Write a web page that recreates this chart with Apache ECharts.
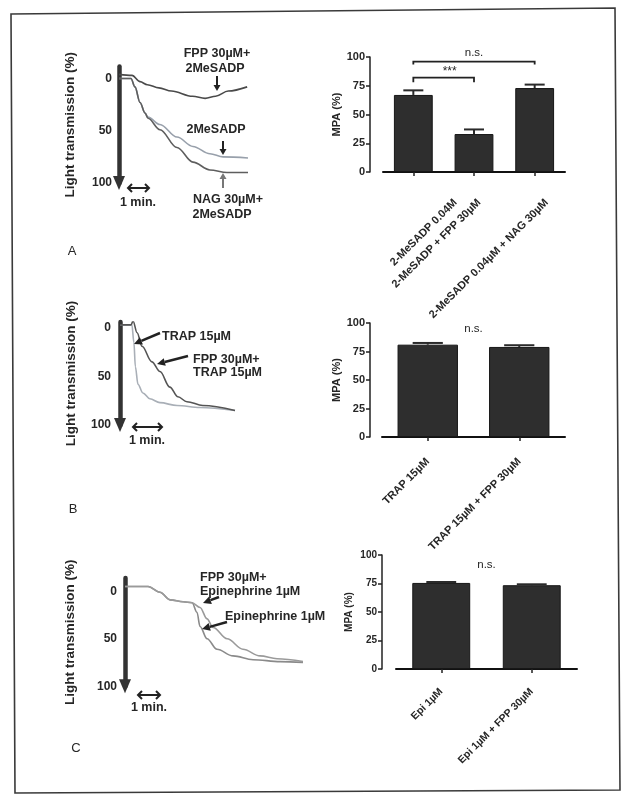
<!DOCTYPE html>
<html><head><meta charset="utf-8">
<script src="https://cdn.jsdelivr.net/npm/echarts@6/dist/echarts.min.js"></script>
<style>html,body{margin:0;padding:0;background:#fff}#c{width:635px;height:805px}</style>
</head><body><div id="c"></div>
<script>
// ---------- Panel A: aggregation traces (time in min, light transmission %) ----------
const aFppT = [0, 0.62, 1.0, 1.35, 1.9, 2.5, 3.5, 4.1, 4.6, 5.2, 6.1];
const aFppV = [-4, -3, 3, 6, 9, 12, 17, 19, 17, 12, 8];
const aAdpT = [0, 0.57, 0.76, 1.0, 1.24, 1.38, 1.95, 2.76, 3.52, 4.33, 4.95, 6.14];
const aAdpV = [0, 0, 8, 23, 33, 37, 44, 56, 65, 72, 75, 76];
const aNagT = [0, 0.57, 0.76, 1.0, 1.24, 1.38, 1.95, 2.76, 3.52, 4.33, 5.14, 6.14];
const aNagV = [0, 0, 8, 23, 33, 38, 49, 66, 80, 87.5, 90, 90];
// ---------- Panel B traces ----------
const bTrapT = [0, 0.41, 0.48, 0.53, 0.62, 0.79, 1.03, 1.38, 1.97, 2.76, 3.97];
const bTrapV = [-3, -3, 15, 40, 58, 67, 73, 77, 80, 82, 85];
const bFppT = [0, 0.38, 0.45, 0.59, 0.76, 1.1, 1.38, 1.72, 2.0, 2.31, 2.86, 3.97];
const bFppV = [-3, -3, -7, 5, 19, 35, 45, 61, 71, 76, 80, 85];
// ---------- Panel C traces ----------
const cEpiT = [0, 1.05, 1.59, 2.05, 2.64, 3.05, 3.27, 3.41, 3.73, 4.18, 4.91, 5.82, 7.05, 8.09];
const cEpiV = [-5, -5, 1, 9, 11, 12, 22, 37, 50, 61, 68, 72, 74, 75];
const cFppT = [0, 1.05, 1.59, 2.05, 2.64, 3.05, 3.41, 3.73, 4.0, 4.64, 5.36, 6.14, 6.91, 8.09];
const cFppV = [-5, -5, 1, 9, 11, 12, 17, 29, 38, 50, 61, 68, 71, 74];
const traceTicks = [0, 50, 100];
// ---------- Bar panels: MPA (%) ----------
const aCats = ['2-MeSADP 0.04M', '2-MeSADP + FPP 30µM', '2-MeSADP 0.04µM + NAG 30µM'];
const aMpa = [67, 33, 73];
const aSem = [4, 4, 3];
const bCats = ['TRAP 15µM', 'TRAP 15µM + FPP 30µM'];
const bMpa = [81, 79];
const bSem = [1.5, 1.5];
const cCats = ['Epi 1µM', 'Epi 1µM + FPP 30µM'];
const cMpa = [75.5, 73.5];
const cSem = [0.8, 0.8];

const FONT = "'Liberation Sans', Arial, sans-serif";
const INK = '#262626';
const pairs = (t, v) => t.map((x, i) => [x, v[i]]);

const chart = echarts.init(document.getElementById('c'), null, {renderer: 'canvas'});

function traceY(grid, min, gap, margin) {
  return {
    gridIndex: grid, type: 'value', inverse: true, min: min, max: 100,
    name: 'Light transmission (%)', nameLocation: 'middle', nameGap: gap,
    nameTextStyle: {fontFamily: FONT, fontWeight: 'bold', fontSize: 13.5, color: INK},
    axisLine: {show: true, symbol: ['triangle', 'none'], symbolSize: [12, 14],
      lineStyle: {color: '#333', width: 4.5}},
    axisTick: {show: false}, splitLine: {show: false},
    axisLabel: {customValues: traceTicks, margin: margin, fontFamily: FONT, fontWeight: 'bold',
      fontSize: 12, color: INK}
  };
}
function traceX(grid, max) {
  return {gridIndex: grid, type: 'value', min: 0, max: max, show: false, splitLine: {show: false}};
}
function barY(grid, offset, fs) {
  return {
    gridIndex: grid, type: 'value', min: 0, max: 100, interval: 25, offset: offset,
    name: 'MPA (%)', nameLocation: 'middle', nameGap: 28,
    nameTextStyle: {fontFamily: FONT, fontWeight: 'bold', fontSize: fs, color: INK},
    axisLine: {show: true, lineStyle: {color: '#222', width: 1.5}},
    axisTick: {show: true, length: 4, lineStyle: {color: '#222', width: 1.5}},
    splitLine: {show: false},
    axisLabel: {margin: 5, fontFamily: FONT, fontWeight: 'bold', fontSize: fs, color: INK}
  };
}
function barX(grid, cats, offset, fs, showLabels) {
  return {
    gridIndex: grid, type: 'category', data: cats, offset: offset,
    axisLine: {show: true, lineStyle: {color: '#111', width: 2}},
    axisTick: {show: true, alignWithLabel: true, length: 4, lineStyle: {color: '#222', width: 1.5}},
    axisLabel: {show: showLabels, rotate: 45, interval: 0, margin: 8, fontFamily: FONT, fontWeight: 'bold', fontSize: fs, color: INK}
  };
}
function line(xi, data, color, w) {
  return {type: 'line', xAxisIndex: xi, yAxisIndex: xi, data: data, showSymbol: false,
    smooth: 0.35, smoothMonotone: 'x', lineStyle: {color: color, width: w || 1.6}, silent: true, z: 3};
}
function bars(xi, vals, bw) {
  return {type: 'bar', xAxisIndex: xi, yAxisIndex: xi, data: vals, barWidth: bw,
    itemStyle: {color: '#2e2e2e', borderColor: '#161616', borderWidth: 1}, silent: true, z: 2};
}
function errs(xi, vals, sems, capFrac) {
  return {type: 'custom', xAxisIndex: xi, yAxisIndex: xi, z: 4, silent: true,
    data: vals.map((v, i) => [i, v, sems[i]]),
    renderItem: function (params, api) {
      const i = api.value(0), v = api.value(1), e = api.value(2);
      const b = api.coord([i, v]), t = api.coord([i, v + e]);
      const cw = api.size([1, 0])[0] * capFrac;
      return {type: 'group', children: [
        {type: 'line', shape: {x1: b[0], y1: b[1], x2: t[0], y2: t[1]}, style: {stroke: '#2a2a2a', lineWidth: 2}},
        {type: 'line', shape: {x1: t[0] - cw / 2, y1: t[1], x2: t[0] + cw / 2, y2: t[1]}, style: {stroke: '#2a2a2a', lineWidth: 2}}
      ]};
    }};
}

const option = {
  animation: false,
  backgroundColor: '#fff',
  grid: [
    {left: 119, top: 66.5, width: 129, height: 116.5},
    {left: 383, top: 57, width: 182, height: 115},
    {left: 120, top: 322, width: 115, height: 103},
    {left: 382, top: 323, width: 183, height: 114},
    {left: 125, top: 578, width: 178, height: 108.3},
    {left: 396, top: 555, width: 181, height: 114}
  ],
  xAxis: [
    traceX(0, 6.14), barX(1, aCats, 12, 11, false),
    traceX(2, 3.97), barX(3, bCats, 15, 11, true),
    traceX(4, 8.09), barX(5, cCats, 13, 10.5, true)
  ],
  yAxis: [
    traceY(0, -11.5, 42, 7), barY(1, 13, 11),
    traceY(2, -6, 42, 9), barY(3, 12, 11),
    traceY(4, -14, 48, 8), barY(5, 14, 10)
  ],
  series: [
    line(0, pairs(aAdpT, aAdpV), '#98a0ab'),
    line(0, pairs(aNagT, aNagV), '#5e5e5e'),
    line(0, pairs(aFppT, aFppV), '#4a4a4a'),
    bars(1, aMpa, '64%'), errs(1, aMpa, aSem, 0.33),
    line(2, pairs(bTrapT, bTrapV), '#a9afb7'),
    line(2, pairs(bFppT, bFppV), '#555555'),
    bars(3, bMpa, '66%'), errs(3, bMpa, bSem, 0.33),
    line(4, pairs(cEpiT, cEpiV), '#8a8a8a'),
    line(4, pairs(cFppT, cFppV), '#9a9a9a'),
    bars(5, cMpa, '64%'), errs(5, cMpa, cSem, 0.33)
  ]
};
chart.setOption(option);

// ---------- annotations ----------
function txt(x, y, s, o) {
  o = o || {};
  return {type: 'text', x: x, y: y, rotation: o.rot || 0, style: {text: s, fontFamily: FONT, fontWeight: o.w || 'bold',
    fontSize: o.fs || 12.5, fill: o.c || INK, align: o.align || 'center', verticalAlign: 'middle'}, z: 10};
}
function arrow(x1, y1, x2, y2, color, L, W, lw) {
  const a = Math.atan2(y2 - y1, x2 - x1);
  L = L || 7; W = W || 3.5;
  const bx = x2 - L * Math.cos(a), by = y2 - L * Math.sin(a);
  const px = -Math.sin(a) * W, py = Math.cos(a) * W;
  return [
    {type: 'line', shape: {x1: x1, y1: y1, x2: bx, y2: by}, style: {stroke: color, lineWidth: lw || 2}, z: 10},
    {type: 'polygon', shape: {points: [[x2, y2], [bx + px, by + py], [bx - px, by - py]]}, style: {fill: color}, z: 10}
  ];
}
function scaleBar(x1, x2, y) {
  const h = 4;
  return [
    {type: 'line', shape: {x1: x1, y1: y, x2: x2, y2: y}, style: {stroke: '#222', lineWidth: 2}, z: 10},
    {type: 'polyline', shape: {points: [[x1 + h, y - h], [x1, y], [x1 + h, y + h]]}, style: {stroke: '#222', lineWidth: 2, fill: null}, z: 10},
    {type: 'polyline', shape: {points: [[x2 - h, y - h], [x2, y], [x2 - h, y + h]]}, style: {stroke: '#222', lineWidth: 2, fill: null}, z: 10}
  ];
}
const px = (grid, i, v) => chart.convertToPixel({gridIndex: grid}, [i, v]);
function bracket(grid, i1, i2, v, drop) {
  const p1 = px(grid, i1, v), p2 = px(grid, i2, v), q = px(grid, i1, v - drop);
  return {type: 'polyline', shape: {points: [[p1[0], q[1]], [p1[0], p1[1]], [p2[0], p2[1]], [p2[0], q[1]]]},
    style: {stroke: '#222', lineWidth: 1.8, fill: null}, z: 10};
}
function labelMid(grid, i1, i2, v, s, fs, dx) {
  const p1 = px(grid, i1, v), p2 = px(grid, i2, v);
  return txt((p1[0] + p2[0]) / 2 + (dx || 0), p1[1], s, {w: 'normal', fs: fs || 11.5});
}

const g = [];
g.push({type: 'polygon', shape: {points: [[11, 14], [615, 8], [620, 790], [15, 793]]},
  style: {stroke: '#3a3a3a', lineWidth: 1.6, fill: null}, z: 1});
g.push(txt(72, 251, 'A', {w: 'normal', fs: 13}));
g.push(txt(73, 509, 'B', {w: 'normal', fs: 13}));
g.push(txt(76, 748, 'C', {w: 'normal', fs: 13}));
// A trace annotations
g.push(txt(217, 54, 'FPP 30µM+'), txt(215, 69, '2MeSADP'));
g.push(...arrow(217, 76, 217, 91, '#222', 6, 3.5, 2));
g.push(txt(216, 130, '2MeSADP'));
g.push(...arrow(223, 141, 223, 155, '#222', 6, 3.5, 2));
g.push(...arrow(223, 188, 223, 173, '#777', 6, 3.5, 2));
g.push(txt(228, 200, 'NAG 30µM+'), txt(222, 215, '2MeSADP'));
g.push(...scaleBar(128, 149, 188), txt(138, 203, '1 min.'));
// B trace annotations
g.push(txt(162, 337, 'TRAP 15µM', {align: 'left'}));
g.push(...arrow(160, 333, 134, 344, '#222', 8, 4, 2.5));
g.push(txt(193, 360, 'FPP 30µM+', {align: 'left'}), txt(193, 373, 'TRAP 15µM', {align: 'left'}));
g.push(...arrow(188, 356, 157, 364, '#222', 8, 4, 2.5));
g.push(...scaleBar(133, 162, 427), txt(147, 441, '1 min.'));
// C trace annotations
g.push(txt(200, 578, 'FPP 30µM+', {align: 'left'}), txt(200, 592, 'Epinephrine 1µM', {align: 'left'}));
g.push(...arrow(219, 597, 203, 603, '#222', 8, 4, 2.5));
g.push(txt(225, 617, 'Epinephrine 1µM', {align: 'left'}));
g.push(...arrow(227, 622, 202, 629, '#222', 8, 4, 2.5));
g.push(...scaleBar(138, 160, 695), txt(149, 708, '1 min.'));
// Panel A category labels (rotated, placed as in the original figure)
const aLabelShift = [42, 5, 12];
aCats.forEach((c, i) => {
  const p = px(1, i, 0);
  g.push(txt(p[0] + aLabelShift[i], 201, c, {fs: 11, align: 'right', rot: Math.PI / 4}));
});
// significance marks
g.push(bracket(1, 0, 2, 96, 2.5), labelMid(1, 0, 2, 104, 'n.s.'));
g.push(bracket(1, 0, 1, 82, 4), labelMid(1, 0, 1, 87.5, '***', 12, 6));
g.push(labelMid(3, 0, 1, 95, 'n.s.'));
g.push(labelMid(5, 0, 1, 91, 'n.s.'));
chart.setOption({graphic: {elements: g}});
</script></body></html>
